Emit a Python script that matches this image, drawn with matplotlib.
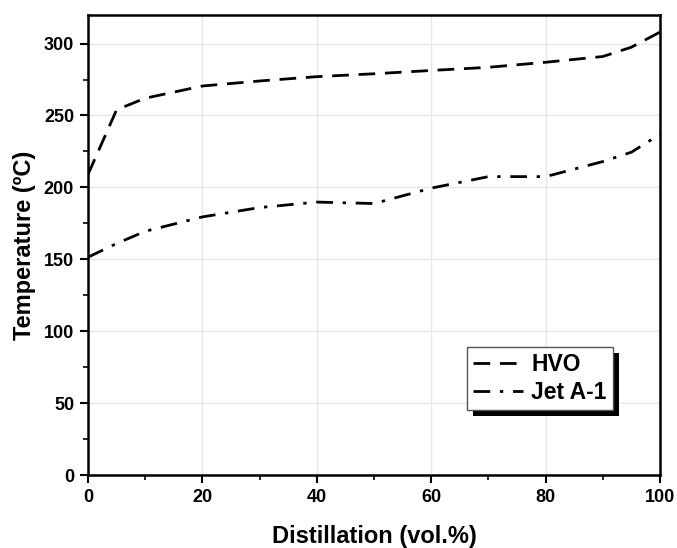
import matplotlib
matplotlib.use("Agg")
import matplotlib.pyplot as plt
from matplotlib.patches import Rectangle
from matplotlib.ticker import MultipleLocator

plt.rcParams['font.family'] = ['Liberation Sans', 'DejaVu Sans']
plt.rcParams['font.weight'] = 'bold'

distill = [0, 5, 10, 20, 30, 40, 50, 60, 70, 80, 90, 95, 100]
hvo = [209, 254, 262, 270.5, 274, 277, 279, 281.3, 283.5, 287, 291, 297.5, 308]
jet = [151.5, 161, 169.5, 179.5, 186, 189.8, 188.8, 199.5, 207.5, 207.5, 218, 224.5, 237]

xticks = [0, 20, 40, 60, 80, 100]
yticks = [0, 50, 100, 150, 200, 250, 300]

fig = plt.figure(figsize=(6.77, 5.48), dpi=100)
ax = fig.add_axes([0.130, 0.133, 0.845, 0.840])

ax.plot(distill, hvo, color='black', lw=2.0, dashes=(6, 3.5), label='HVO')
ax.plot(distill, jet, color='black', lw=2.0, dashes=(6, 3.5, 1.2, 3.5), label='Jet A-1')

ax.set_xlim(0, 100)
ax.set_ylim(0, 320)
ax.set_xticks(xticks)
ax.set_yticks(yticks)
ax.xaxis.set_minor_locator(MultipleLocator(10))
ax.yaxis.set_minor_locator(MultipleLocator(25))
ax.tick_params(which='major', direction='out', length=6, width=1.5, labelsize=13, pad=4)
ax.tick_params(which='minor', direction='out', length=3.5, width=1.2)
for lab in ax.get_xticklabels() + ax.get_yticklabels():
    lab.set_fontweight('bold')
for s in ax.spines.values():
    s.set_linewidth(1.8)
ax.grid(True, which='major', color='#e6e6e6', lw=1.0)
ax.set_axisbelow(True)

ax.set_xlabel('Distillation (vol.%)', fontsize=17, fontweight='bold', labelpad=14)
ax.set_ylabel('Temperature (ºC)', fontsize=17, fontweight='bold', labelpad=6)

leg = ax.legend(loc='upper left', bbox_to_anchor=(0.663, 0.278), fancybox=False,
                framealpha=1, edgecolor='#555555', fontsize=16.5, handlelength=2.2,
                handletextpad=0.35, borderpad=0.25, labelspacing=0.22, borderaxespad=0)
leg.get_frame().set_linewidth(1.0)
leg.set_zorder(6)
for t in leg.get_texts():
    t.set_fontweight('bold')

fig.canvas.draw()
bb = leg.get_window_extent()
inv = fig.transFigure.inverted()
(x0, y0), (x1, y1) = inv.transform([[bb.x0 + 6, bb.y0 - 6], [bb.x1 + 6, bb.y1 - 6]])
shadow = Rectangle((x0, y0), x1 - x0, y1 - y0, transform=fig.transFigure,
                   facecolor='black', edgecolor='none', zorder=5, clip_on=False)
ax.add_patch(shadow)

fig.savefig('out.png', dpi=100)
